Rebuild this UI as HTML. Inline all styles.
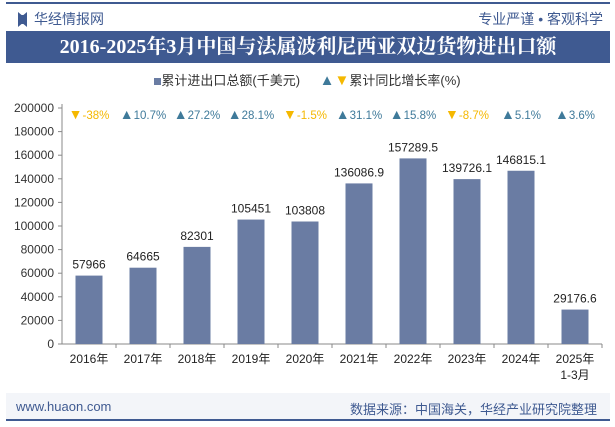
<!DOCTYPE html>
<html><head><meta charset="utf-8"><style>
body{margin:0;width:615px;height:427px;background:#fff;font-family:"Liberation Sans","Noto Sans CJK SC",sans-serif;overflow:hidden;position:relative}
.a{position:absolute}
</style></head><body>
<div class="a" style="left:6px;top:2px;width:604px;height:2px;background:#3f5a91"></div>
<div class="a" style="left:18px;top:12px;width:9px;height:15px;background:#3f5a91;clip-path:polygon(0 0,40% 20%,60% 20%,100% 0,100% 100%,60% 80%,40% 80%,0 100%)"></div>
<div class="a" style="left:34px;top:9px;font-size:14px;color:#3f5a91">华经情报网</div>
<div class="a" style="right:12px;top:9px;font-size:14px;color:#3f5a91">专业严谨 • 客观科学</div>
<div class="a" style="left:6px;top:31px;width:604px;height:32px;background:#3f5a91;color:#fff;font-size:20px;font-weight:bold;text-align:center;line-height:32px;font-family:'Liberation Serif','Noto Serif CJK SC',serif">2016-2025年3月中国与法属波利尼西亚双边货物进出口额</div>
<div class="a" style="left:0;width:615px;top:70px;text-align:center;font-size:13px;color:#333">
<span><span style="display:inline-block;width:7px;height:7px;background:#6a7ca3"></span>累计进出口总额(千美元)</span>
<span style="margin-left:16px"><span style="color:#3f7a9a;font-size:15px">▲</span><span style="color:#f5b800;font-size:15px">▼</span>累计同比增长率(%)</span></div>
<svg class="a" style="left:0;top:0" width="615" height="427">
<g id="g"></g></svg>
<div class="a" style="left:6px;top:393px;width:604px;height:27px;background:#f3f5f9"></div>
<div class="a" style="left:16px;top:399px;font-size:13px;color:#3f5a91">www.huaon.com</div>
<div class="a" style="right:18px;top:399px;font-size:13px;color:#3f5a91">数据来源：中国海关，华经产业研究院整理</div>
<div class="a" style="left:6px;top:419px;width:604px;height:2px;background:#3f5a91"></div>
<script>
const categories=["2016年","2017年","2018年","2019年","2020年","2021年","2022年","2023年","2024年","2025年"];
const values=[57966,64665,82301,105451,103808,136086.9,157289.5,139726.1,146815.1,29176.6];
const valueLabels=["57966","64665","82301","105451","103808","136086.9","157289.5","139726.1","146815.1","29176.6"];
const growth=[-38,10.7,27.2,28.1,-1.5,31.1,15.8,-8.7,5.1,3.6];
const yTicks=[0,20000,40000,60000,80000,100000,120000,140000,160000,180000,200000];
const X0=62,X1=602,Y0=344,Y1=108,MAX=200000;
const bw=(X1-X0)/categories.length;
const y=v=>Y0-(v/MAX)*(Y0-Y1);
const xc=i=>X0+bw*(i+0.5);
const g=document.getElementById('g');const NS='http://www.w3.org/2000/svg';
function mk(t,a,txt,p){const e=document.createElementNS(NS,t);for(const k in a)e.setAttribute(k,a[k]);if(txt!=null)e.textContent=txt;(p||g).appendChild(e);return e;}
let e=mk('line',{x1:X0,y1:Y1-4,x2:X0,y2:Y0,stroke:'#888'});

e=mk('line',{x1:X0,y1:Y0,x2:X1,y2:Y0,stroke:'#888'});

yTicks.forEach(t=>{mk('line',{x1:X0-4,x2:X0,y1:y(t),y2:y(t),stroke:'#888'});
e=mk('text',{x:X0-8,y:y(t)+4,'text-anchor':'end','font-size':12,fill:'#333'},t);
});
categories.forEach((c,i)=>{
mk('line',{x1:X0+bw*(i+1),x2:X0+bw*(i+1),y1:Y0,y2:Y0+4,stroke:'#888'});
e=mk('rect',{x:xc(i)-13.5,y:y(values[i]),width:27,height:Y0-y(values[i]),fill:'#6a7ca3'});

e=mk('text',{x:xc(i),y:y(values[i])-7,'text-anchor':'middle','font-size':12,fill:'#222'},valueLabels[i]);

e=mk('text',{x:xc(i),y:Y0+19,'text-anchor':'middle','font-size':12,fill:'#222'},c);

const up=growth[i]>=0;
e=mk('text',{x:xc(i),y:119,'text-anchor':'middle','font-size':11.5,fill:up?'#3f7a9a':'#f5b800'});

mk('tspan',{'font-size':14},up?'▲':'▼',e);
mk('tspan',{},growth[i]+'%',e);
});
e=mk('text',{x:xc(9),y:Y0+35,'text-anchor':'middle','font-size':12,fill:'#222'},'1-3月');

</script>
</body></html>
